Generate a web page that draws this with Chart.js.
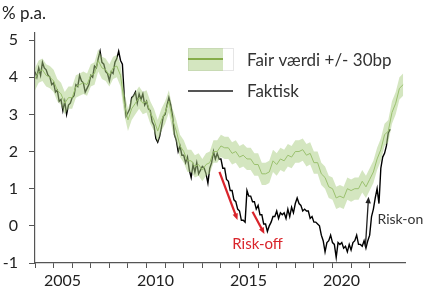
<!DOCTYPE html>
<html>
<head>
<meta charset="utf-8">
<script src="https://cdn.jsdelivr.net/npm/chart.js@4"></script>
<style>
  html, body { margin: 0; padding: 0; background: #fff; }
  #wrap { width: 425px; height: 290px; }
</style>
</head>
<body>
<div id="wrap"><canvas id="myChart" width="425" height="290"></canvas></div>
<script>
// Faktisk: 10 readings per year from 2004.0
const faktiskStart = 2004
const faktiskStep = 0.1
const faktisk = [
  4.15, 4.0, 4.25, 4.05, 4.4, 4.25, 4.2, 4.05, 4.0, 3.8,
  3.85, 3.6, 3.65, 3.35, 3.4, 3.1, 3.35, 3.0, 3.25, 3.3,
  3.45, 3.5, 3.8, 3.75, 4.05, 3.9, 3.85, 3.6, 3.7, 3.8,
  4.05, 4.0, 4.3, 4.25, 4.5, 4.7, 4.4, 4.35, 4.15, 4.1,
  3.9, 4.15, 4.1, 4.4, 4.5, 4.7, 4.45, 4.35, 3.5, 2.95,
  3.05, 3.15, 3.45, 3.5, 3.6, 3.3, 3.55, 3.4, 3.55, 3.25,
  3.35, 3.15, 3.1, 2.8, 2.7, 2.35, 2.25, 2.4, 2.65, 2.95,
  3.0, 3.25, 3.45, 3.25, 2.95, 2.45, 2.3, 2.0, 2.15, 1.9,
  1.9, 1.7, 1.85, 1.5, 1.3, 1.65, 1.45, 1.7, 1.4, 1.5,
  1.6, 1.55, 1.4, 1.15, 1.55, 1.7, 2.0, 1.8, 1.95, 1.8,
  1.8, 1.55, 1.55, 1.25, 1.2, 0.95, 0.95, 0.7, 0.65, 0.45,
  0.4, 0.15, 0.15, 0.1, 0.95, 0.8, 0.8, 0.65, 0.65, 0.45,
  0.55, 0.3, 0.3, 0.05, 0.05, -0.15, 0.0, 0.1, 0.25, 0.25,
  0.4, 0.2, 0.35, 0.3, 0.35, 0.2, 0.45, 0.25, 0.5, 0.35,
  0.6, 0.75, 0.6, 0.55, 0.4, 0.45, 0.4, 0.4, 0.2, 0.25,
  0.1, 0.1, 0.05, 0.0, -0.25, -0.4, -0.7, -0.45, -0.4, -0.25,
  -0.45, -0.5, -0.85, -0.45, -0.5, -0.45, -0.6, -0.55, -0.7, -0.5,
  -0.65, -0.45, -0.4, -0.25, -0.5, -0.5, -0.55, -0.4, -0.6, -0.4,
  -0.25, 0.25, 0.45, 0.75, 1.0, 0.6, 1.55, 1.85, 1.95, 2.15,
  2.5, 2.6
]

// Fair værdi: 5 readings per year from 2004.0
const fairStart = 2004
const fairStep = 0.2
const fairVaerdi = [
  3.95, 4.15, 4.2, 4.05, 4.0,
  3.9, 3.65, 3.55, 3.3, 3.45,
  3.45, 3.75, 3.8, 3.85, 3.8,
  4.05, 4.1, 4.45, 4.25, 4.2,
  4.05, 4.25, 4.3, 4.05, 3.3,
  2.85, 3.15, 3.3, 3.45, 3.3,
  3.35, 3.05, 2.85, 2.55, 2.85,
  3.05, 3.35, 2.85, 2.55, 2.15,
  2.0, 1.75, 1.75, 1.6, 1.65,
  1.5, 1.65, 1.7, 2.0, 2.0,
  2.15, 2.1, 2.1, 1.95, 2.0,
  1.85, 1.9, 1.8, 1.8, 1.65,
  1.65, 1.4, 1.4, 1.45, 1.75,
  1.65, 1.8, 1.75, 1.9, 1.85,
  2.0, 2.0, 2.05, 1.9, 1.95,
  1.7, 1.7, 1.4, 1.3, 1.05,
  1.0, 0.75, 0.8, 0.75, 1.0,
  0.95, 1.0, 1.0, 1.2, 1.05,
  1.25, 1.45, 1.8, 2.05, 2.45,
  2.55, 3.05, 3.3, 3.7, 3.8
]
const bandWidth = 0.3

const yTicks = [-1, 0, 1, 2, 3, 4, 5]
const xLabels = [2005, 2010, 2015, 2020]

// arrows and notes, in data units (year, % p.a.)
const arrows = [
  {from: [2013.92, 1.45], to: [2014.89, 0.16], color: '#d9242b', width: 2.2},
  {from: [2015.7, 0.38], to: [2016.34, -0.22], color: '#d9242b', width: 2.2},
  {from: [2021.77, -0.56], to: [2021.94, 0.78], color: '#222', width: 1.3},
]
const notes = [
  {text: 'Risk-off', at: [2015.97, -0.48], color: '#d9242b', align: 'center', size: 15},
  {text: 'Risk-on', at: [2022.42, 0.16], color: '#333', align: 'left', size: 14},
]

const FONT = 'Lato, "Open Sans", sans-serif'
const BAND = 'rgba(170, 206, 130, 0.5)'

const pts = (start, step, arr, off = 0) =>
  arr.map((v, i) => ({x: start + i * step, y: v + off}))

const annotate = {
  id: 'annotate',
  afterDatasetsDraw(chart) {
    const {ctx, scales: {x, y}} = chart
    ctx.save()
    arrows.forEach(a => {
      const x1 = x.getPixelForValue(a.from[0]), y1 = y.getPixelForValue(a.from[1])
      const x2 = x.getPixelForValue(a.to[0]), y2 = y.getPixelForValue(a.to[1])
      const ang = Math.atan2(y2 - y1, x2 - x1)
      const head = 7
      ctx.strokeStyle = a.color
      ctx.fillStyle = a.color
      ctx.lineWidth = a.width
      ctx.beginPath()
      ctx.moveTo(x1, y1)
      ctx.lineTo(x2 - Math.cos(ang) * head * 0.8, y2 - Math.sin(ang) * head * 0.8)
      ctx.stroke()
      ctx.beginPath()
      ctx.moveTo(x2, y2)
      ctx.lineTo(x2 - head * Math.cos(ang - 0.4), y2 - head * Math.sin(ang - 0.4))
      ctx.lineTo(x2 - head * Math.cos(ang + 0.4), y2 - head * Math.sin(ang + 0.4))
      ctx.closePath()
      ctx.fill()
    })
    ctx.textBaseline = 'middle'
    notes.forEach(n => {
      ctx.font = n.size + 'px ' + FONT
      ctx.fillStyle = n.color
      ctx.textAlign = n.align
      ctx.fillText(n.text, x.getPixelForValue(n.at[0]), y.getPixelForValue(n.at[1]))
    })

    // title
    ctx.fillStyle = '#222'
    ctx.textAlign = 'left'
    ctx.font = '17px ' + FONT
    ctx.fillText('% p.a.', 2, 14)

    // legend
    ctx.strokeStyle = '#e6e6e6'
    ctx.lineWidth = 1
    ctx.strokeRect(188.5, 48.5, 45, 22)
    ctx.fillStyle = BAND
    ctx.fillRect(188, 48, 35, 23)
    ctx.strokeStyle = '#86ad4a'
    ctx.lineWidth = 2
    ctx.beginPath(); ctx.moveTo(188, 59); ctx.lineTo(223, 59); ctx.stroke()
    ctx.strokeStyle = '#555'
    ctx.beginPath(); ctx.moveTo(188, 91); ctx.lineTo(233, 91); ctx.stroke()
    ctx.fillStyle = '#333'
    ctx.font = '17px ' + FONT
    ctx.fillText('Fair værdi +/- 30bp', 247, 61)
    ctx.fillText('Faktisk', 247, 92)
    ctx.restore()
  }
}

new Chart(document.getElementById('myChart').getContext('2d'), {
  type: 'line',
  data: {
    datasets: [
      {
        label: 'upper',
        data: pts(fairStart, fairStep, fairVaerdi, bandWidth),
        borderWidth: 0,
        pointRadius: 0,
        fill: '+1',
        backgroundColor: BAND,
      },
      {
        label: 'lower',
        data: pts(fairStart, fairStep, fairVaerdi, -bandWidth),
        borderWidth: 0,
        pointRadius: 0,
        fill: false,
      },
      {
        label: 'Fair værdi +/- 30bp',
        data: pts(fairStart, fairStep, fairVaerdi),
        borderColor: '#8bb35a',
        borderWidth: 1,
        pointRadius: 0,
        fill: false,
      },
      {
        label: 'Faktisk',
        data: pts(faktiskStart, faktiskStep, faktisk),
        borderColor: '#000',
        borderWidth: 1.4,
        pointRadius: 0,
        fill: false,
      },
    ],
  },
  options: {
    responsive: false,
    animation: false,
    layout: {padding: {top: 32.6, right: 20, left: 0, bottom: 0}},
    plugins: {legend: {display: false}, tooltip: {enabled: false}},
    scales: {
      x: {
        type: 'linear',
        min: 2004,
        max: 2023.9,
        afterFit: s => { s.height = 27 },
        afterBuildTicks: s => {
          s.ticks = s.ticks.filter(t => Number.isInteger(t.value))
        },
        ticks: {
          stepSize: 1,
          autoSkip: false,
          maxRotation: 0,
          padding: 3,
          labelOffset: 9,
          color: '#222',
          font: {family: FONT, size: 16},
          callback: v => (xLabels.includes(v) ? String(v) : ''),
        },
        grid: {drawOnChartArea: false, tickLength: 5, color: '#555'},
        border: {color: '#555', width: 1.2},
      },
      y: {
        min: -1,
        max: 5.2,
        afterFit: s => { s.width = 35 },
        afterBuildTicks: s => {
          s.ticks = yTicks.map(v => ({value: v}))
        },
        ticks: {
          padding: 11,
          color: '#222',
          font: {family: FONT, size: 16},
        },
        grid: {drawOnChartArea: false, tickLength: 6, color: '#555'},
        border: {color: '#555', width: 1.2},
      },
    },
  },
  plugins: [annotate],
})
</script>
</body>
</html>
